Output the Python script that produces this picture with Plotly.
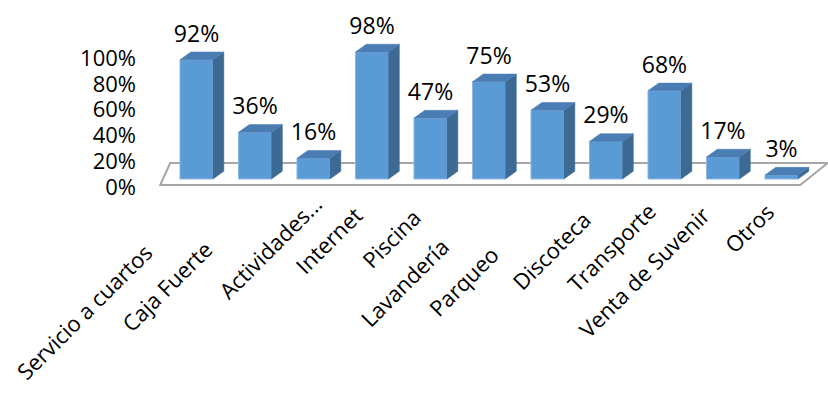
import plotly.graph_objects as go

# Survey results: share of respondents per hotel service
categories = ["Servicio a cuartos", "Caja Fuerte", "Actividades...", "Internet", "Piscina",
              "Lavandería", "Parqueo", "Discoteca", "Transporte", "Venta de Suvenir", "Otros"]
values = [92, 36, 16, 98, 47, 75, 53, 29, 68, 17, 3]
value_labels = [f"{v}%" for v in values]
y_ticks = [0, 20, 40, 60, 80, 100]
y_tick_labels = [f"{t}%" for t in y_ticks]

# ---- styling / geometry --------------------------------------------------
FONT = "Open Sans"
TEXT_COLOR = "#000000"
FRONT = "#5B9BD5"
SIDE = "#3D6A93"
TOP = "#4A7DB3"
FLOOR_LINE = "#A6A6A6"
BAR_W = 0.565          # front face width (category units)
DEPTH_X = 0.185        # 3-D depth offset (category units)
DEPTH_Y = 6.0          # 3-D depth offset (value units)
LABEL_LIFT = 18.5      # value-label offset above the front top edge

# pixel offsets of the staggered category labels (dx, dy)
label_shift = [(-34, 38), (-33, 36), (18, -10), (0, 1), (0, 3), (-30, 33),
               (-39, 41), (-5, 6), (1, -2), (-4, 1), (2, -2)]

n = len(values)
idx = list(range(n))

fig = go.Figure()

# front faces
fig.add_trace(go.Bar(
    x=idx, y=values, width=BAR_W, marker=dict(color=FRONT, line=dict(color="#8DB8E2", width=1)),
    hoverinfo="skip", showlegend=False))

# side and top faces of each column
sx, sy, tx, ty = [], [], [], []
for i, v in zip(idx, values):
    left, right = i - BAR_W / 2, i + BAR_W / 2
    sx += [right, right + DEPTH_X, right + DEPTH_X, right, right, None]
    sy += [0, DEPTH_Y, v + DEPTH_Y, v, 0, None]
    tx += [left, right, right + DEPTH_X, left + DEPTH_X, left, None]
    ty += [v, v, v + DEPTH_Y, v + DEPTH_Y, v, None]

fig.add_trace(go.Scatter(x=sx, y=sy, mode="lines", fill="toself", fillcolor=SIDE,
                         line=dict(color=SIDE, width=0.5), hoverinfo="skip", showlegend=False))
fig.add_trace(go.Scatter(x=tx, y=ty, mode="lines", fill="toself", fillcolor=TOP,
                         line=dict(color=TOP, width=0.5), hoverinfo="skip", showlegend=False))

# value labels
fig.add_trace(go.Scatter(
    x=idx, y=[v + LABEL_LIFT for v in values], mode="text", text=value_labels,
    textposition="middle center", textfont=dict(family=FONT, size=23, color=TEXT_COLOR),
    cliponaxis=False, hoverinfo="skip", showlegend=False))

# carrier trace for the percentage axis
fig.add_trace(go.Scatter(x=[0], y=[0], yaxis="y2", mode="markers",
                         marker=dict(opacity=0), hoverinfo="skip", showlegend=False))

# floor of the 3-D plot area
fl, fr = -0.62, n - 1 + 0.32
bl, br = -0.45, n - 1 + 0.79
ff, fb = -4.6, 12.3
fig.add_shape(type="path", xref="x", yref="y", layer="below",
              path=f"M {fl},{ff} L {fr},{ff} L {br},{fb} L {bl},{fb} Z",
              fillcolor="white", line=dict(color=FLOOR_LINE, width=2))

# rotated category labels
for i, (name, (dx, dy)) in enumerate(zip(categories, label_shift)):
    fig.add_annotation(x=i, y=-13.1, xref="x", yref="y", text=name, showarrow=False,
                       textangle=-45, xanchor="right", yanchor="top",
                       xshift=-1 + dx, yshift=-dy,
                       font=dict(family=FONT, size=22, color=TEXT_COLOR))

fig.update_layout(
    width=828, height=396, autosize=False,
    margin=dict(l=0, r=0, t=0, b=0),
    paper_bgcolor="white", plot_bgcolor="white",
    showlegend=False,
    xaxis=dict(range=[-3.359, 10.795], visible=False, fixedrange=True),
    yaxis=dict(range=[-167.4, 138.1], visible=False, fixedrange=True),
    yaxis2=dict(overlaying="y", anchor="free", position=0.1643, side="left",
                range=[-162.0, 145.0], tickvals=y_ticks, ticktext=y_tick_labels,
                showgrid=False, zeroline=False, showline=False, ticks="",
                tickfont=dict(family=FONT, size=22, color=TEXT_COLOR), fixedrange=True),
)

fig.write_html("out.html")
